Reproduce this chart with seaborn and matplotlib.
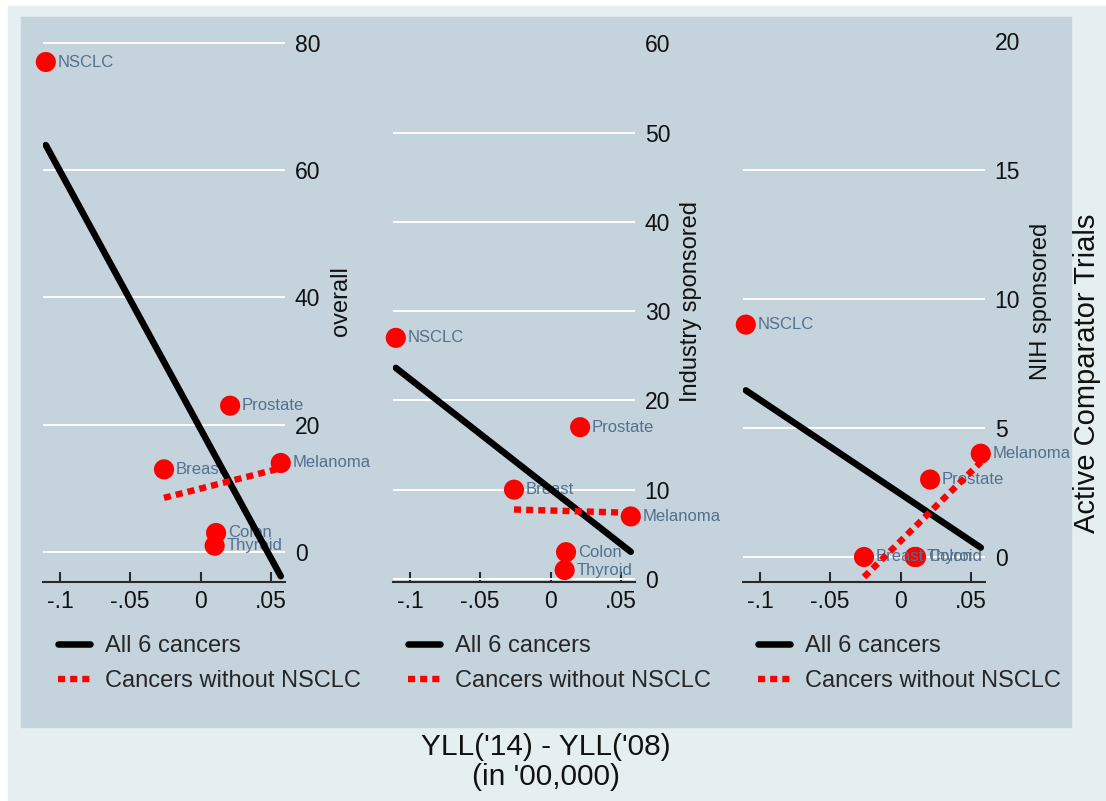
import matplotlib
matplotlib.use('Agg')
import matplotlib.pyplot as plt
from matplotlib.patches import Rectangle
import seaborn as sns
import pandas as pd

# values
cancers = ['NSCLC', 'Breast', 'Colon', 'Thyroid', 'Prostate', 'Melanoma']
yll_change = [-0.110, -0.026, 0.011, 0.010, 0.021, 0.057]
overall = [77, 13, 3, 1, 23, 14]
industry = [27, 10, 3, 1, 17, 7]
nih = [9, 0, 0, 0, 3, 4]

panel_cols = ['overall', 'industry', 'nih']
panel_titles = ['overall', 'Industry sponsored', 'NIH sponsored']
panel_ylims = [(-4.7, 83.6), (-0.34, 62.6), (-0.97, 20.8)]
panel_ticks = [[0, 20, 40, 60, 80], [0, 10, 20, 30, 40, 50, 60], [0, 5, 10, 15, 20]]
grid_skip = [None, 60, 20]
x_ticks = [-0.1, -0.05, 0, 0.05]
x_ticklabels = ['-.1', '-.05', '0', '.05']

df = pd.DataFrame({'cancer': cancers, 'yll': yll_change,
                   'overall': overall, 'industry': industry, 'nih': nih})
df_wo = df[df['cancer'] != 'NSCLC']

sns.set_style('white')
plt.rcParams['font.family'] = ['Liberation Sans', 'DejaVu Sans']

W, H = 1106, 801
fig = plt.figure(figsize=(W / 100, H / 100), dpi=100, facecolor='white')
fig.add_artist(Rectangle((8 / W, 0), 1 - 8 / W, (H - 6) / H, transform=fig.transFigure,
                         color='#e5eef1', zorder=-2))
fig.add_artist(Rectangle((21 / W, (H - 727) / H), (1071 - 21) / W, (727 - 17) / H,
                         transform=fig.transFigure, color='#c5d3dd', zorder=-1))

lefts = [43, 393, 743]
for i, col in enumerate(panel_cols):
    ax = fig.add_axes([lefts[i] / W, (H - 582) / H, 242 / W, (582 - 20) / H])
    ax.set_facecolor('none')

    sns.scatterplot(data=df, x='yll', y=col, color='red', s=210, edgecolor='none',
                    legend=False, zorder=2, clip_on=False, ax=ax)
    for name, xv, yv in zip(df['cancer'], df['yll'], df[col]):
        ax.annotate(name, (xv, yv), xytext=(8.5, 0), textcoords='offset points',
                    va='center', ha='left', fontsize=12, color='#52708f', zorder=2.5)

    sns.regplot(data=df, x='yll', y=col, scatter=False, ci=None, color='black',
                label='All 6 cancers', line_kws={'lw': 4.7, 'zorder': 3}, ax=ax)
    sns.regplot(data=df_wo, x='yll', y=col, scatter=False, ci=None, color='red',
                label='Cancers without NSCLC',
                line_kws={'lw': 4.6, 'ls': (0, (1.1, 0.8)), 'zorder': 3}, ax=ax)

    ax.set_xlim(-0.112, 0.060)
    ax.set_ylim(*panel_ylims[i])
    ax.set_xticks(x_ticks)
    ax.set_xticklabels(x_ticklabels)
    ax.set_yticks(panel_ticks[i])
    ax.yaxis.tick_right()
    ax.yaxis.set_label_position('right')
    ax.set_xlabel('')
    ax.set_ylabel(panel_titles[i], fontsize=17, labelpad=7, color='#111111')

    ax.grid(axis='y', color='white', lw=1.4, zorder=0)
    ax.grid(axis='x', visible=False)
    ax.set_axisbelow(True)
    for gl, t in zip(ax.yaxis.get_gridlines(), panel_ticks[i]):
        if t == grid_skip[i]:
            gl.set_visible(False)

    for s in ['top', 'left', 'right']:
        ax.spines[s].set_visible(False)
    ax.spines['bottom'].set_color('#2a2a2a')
    ax.spines['bottom'].set_linewidth(1.5)
    ax.tick_params(axis='x', direction='in', length=7, width=1.5, colors='#2a2a2a',
                   labelsize=16.5, labelcolor='#111111', pad=5.5, bottom=True)
    ax.tick_params(axis='y', length=0, pad=7, labelsize=16.5, labelcolor='#111111',
                   right=True, left=False)

    ax.legend(loc='upper left', bbox_to_anchor=(0.062, -0.094), frameon=False,
              fontsize=17, handlelength=1.36, handletextpad=0.64, labelspacing=0.55,
              borderpad=0, borderaxespad=0)

fig.text(546 / W, (H - 762) / H, "YLL('14) - YLL('08)\n(in '00,000)", ha='center',
         va='center', fontsize=21.5, linespacing=1.08, color='#111111')
fig.text(1087 / W, (H - 373) / H, 'Active Comparator Trials', rotation=90,
         ha='center', va='center', fontsize=21, color='#111111')

fig.savefig('out.png', dpi=100)
